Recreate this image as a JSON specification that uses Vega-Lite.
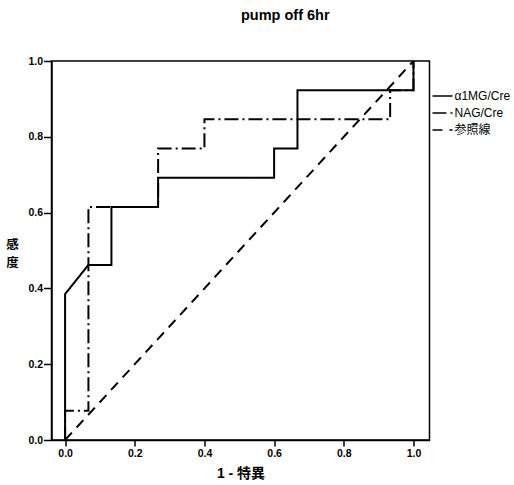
{
  "$schema": "https://vega.github.io/schema/vega-lite/v6.json",
  "width": 378,
  "height": 379,
  "autosize": {"type": "none"},
  "padding": {"left": 51.5, "top": 61, "right": 84.5, "bottom": 45},
  "background": "white",
  "title": {"text": "pump off 6hr", "font": "Liberation Sans", "fontSize": 14.5, "fontWeight": "bold", "color": "black", "dx": 44.75, "offset": 33},
  "config": {"view": {"stroke": "black", "strokeWidth": 1.5}, "font": "Liberation Sans"},
  "data": {"values": [
    {"series": "α1MG/Cre", "i": 0, "fpr": 0, "tpr": 0},
    {"series": "α1MG/Cre", "i": 1, "fpr": 0, "tpr": 0.385},
    {"series": "α1MG/Cre", "i": 2, "fpr": 0.067, "tpr": 0.462},
    {"series": "α1MG/Cre", "i": 3, "fpr": 0.133, "tpr": 0.462},
    {"series": "α1MG/Cre", "i": 4, "fpr": 0.133, "tpr": 0.615},
    {"series": "α1MG/Cre", "i": 5, "fpr": 0.267, "tpr": 0.615},
    {"series": "α1MG/Cre", "i": 6, "fpr": 0.267, "tpr": 0.692},
    {"series": "α1MG/Cre", "i": 7, "fpr": 0.6, "tpr": 0.692},
    {"series": "α1MG/Cre", "i": 8, "fpr": 0.6, "tpr": 0.769},
    {"series": "α1MG/Cre", "i": 9, "fpr": 0.667, "tpr": 0.769},
    {"series": "α1MG/Cre", "i": 10, "fpr": 0.667, "tpr": 0.923},
    {"series": "α1MG/Cre", "i": 11, "fpr": 1, "tpr": 0.923},
    {"series": "α1MG/Cre", "i": 12, "fpr": 1, "tpr": 1},
    {"series": "NAG/Cre", "i": 0, "fpr": 0, "tpr": 0},
    {"series": "NAG/Cre", "i": 1, "fpr": 0, "tpr": 0.077},
    {"series": "NAG/Cre", "i": 2, "fpr": 0.067, "tpr": 0.077},
    {"series": "NAG/Cre", "i": 3, "fpr": 0.067, "tpr": 0.615},
    {"series": "NAG/Cre", "i": 4, "fpr": 0.267, "tpr": 0.615},
    {"series": "NAG/Cre", "i": 5, "fpr": 0.267, "tpr": 0.769},
    {"series": "NAG/Cre", "i": 6, "fpr": 0.4, "tpr": 0.769},
    {"series": "NAG/Cre", "i": 7, "fpr": 0.4, "tpr": 0.846},
    {"series": "NAG/Cre", "i": 8, "fpr": 0.933, "tpr": 0.846},
    {"series": "NAG/Cre", "i": 9, "fpr": 0.933, "tpr": 0.923},
    {"series": "NAG/Cre", "i": 10, "fpr": 1, "tpr": 0.923},
    {"series": "NAG/Cre", "i": 11, "fpr": 1, "tpr": 1},
    {"series": "参照線", "i": 0, "fpr": 0, "tpr": 0},
    {"series": "参照線", "i": 1, "fpr": 1, "tpr": 1}
  ]},
  "mark": {"type": "line", "strokeWidth": 2, "color": "black", "interpolate": "linear"},
  "encoding": {
    "x": {
      "field": "fpr", "type": "quantitative",
      "scale": {"domain": [-0.039, 1.046], "nice": false, "zero": false},
      "axis": {
        "values": [0, 0.2, 0.4, 0.6, 0.8, 1], "format": ".1f", "grid": false,
        "title": "1 - 特異", "titleFont": "Liberation Sans, Noto Sans CJK JP", "titleFontSize": 14, "titleFontWeight": "bold", "titleColor": "black",
        "titleX": 189, "titleY": 33, "titleBaseline": "middle", "titleAlign": "center",
        "domainColor": "black", "domainWidth": 1.5, "tickColor": "black", "tickWidth": 1.5, "tickSize": 6,
        "labelColor": "black", "labelFont": "Liberation Sans", "labelFontSize": 10.5, "labelFontWeight": "bold", "labelPadding": 2
      }
    },
    "y": {
      "field": "tpr", "type": "quantitative",
      "scale": {"domain": [0, 1], "nice": false},
      "axis": {
        "values": [0, 0.2, 0.4, 0.6, 0.8, 1], "format": ".1f", "grid": false,
        "title": ["感", "度"], "titleFont": "Noto Sans CJK JP", "titleFontSize": 12.5, "titleFontWeight": "bold", "titleColor": "black",
        "titleAngle": 0, "titleX": -39.5, "titleY": 183, "titleAlign": "center", "titleBaseline": "middle", "titleLineHeight": 18,
        "domainColor": "black", "domainWidth": 1.5, "tickColor": "black", "tickWidth": 1.5, "tickSize": 8,
        "labelColor": "black", "labelFont": "Liberation Sans", "labelFontSize": 10.5, "labelFontWeight": "bold", "labelPadding": 1
      }
    },
    "order": {"field": "i", "type": "quantitative"},
    "strokeDash": {
      "field": "series", "type": "nominal",
      "scale": {"domain": ["α1MG/Cre", "NAG/Cre", "参照線"], "range": [[1, 0], [14, 4, 2, 4], [10, 7]]},
      "legend": {
        "title": null, "orient": "none", "legendX": 380, "legendY": 24,
        "symbolType": "stroke", "symbolSize": 400, "symbolStrokeWidth": 1.5, "symbolStrokeColor": "black",
        "labelFont": "Liberation Sans, Noto Sans CJK JP", "labelFontSize": 12, "labelColor": "black", "labelOffset": 1, "rowPadding": 0
      }
    }
  }
}
